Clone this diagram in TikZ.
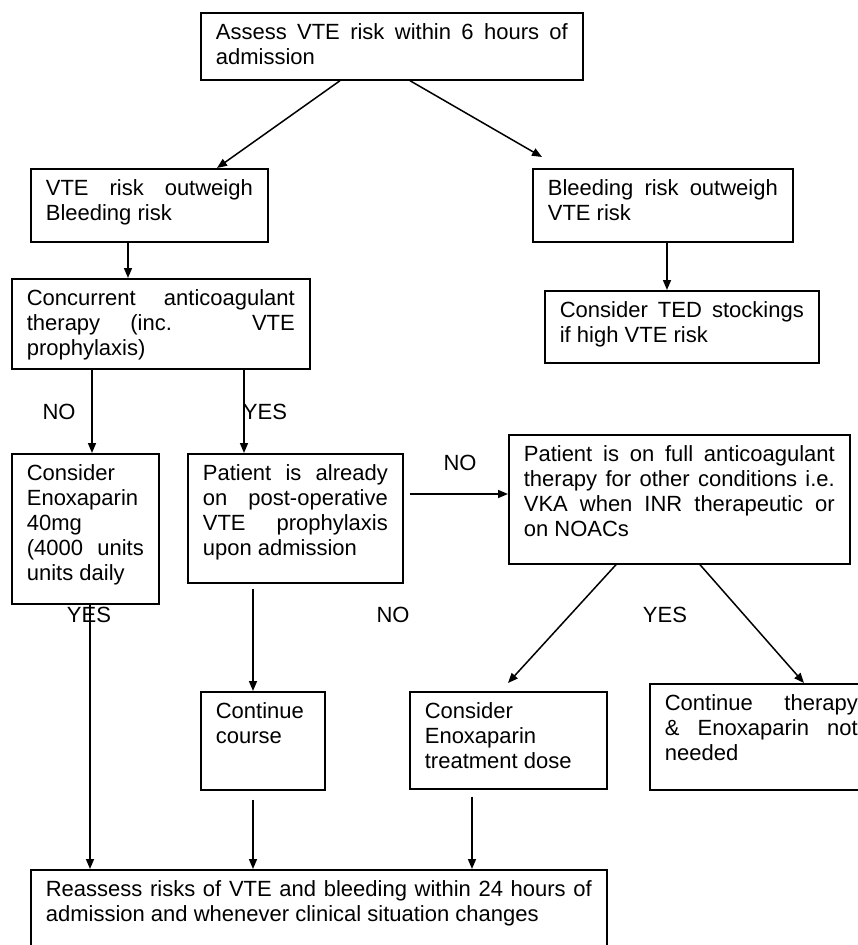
\documentclass[tikz,border=0pt]{standalone}
\usepackage{fontspec}
\setmainfont{Liberation Sans}
\usetikzlibrary{calc, arrows.meta}
\hyphenpenalty=10000
\exhyphenpenalty=10000
\tolerance=9999
\hbadness=10000

\begin{document}
\begin{tikzpicture}[x=1pt, y=-1pt]
	\tikzstyle{box}=[draw, line width=1.7pt, anchor=north west, inner xsep=15pt, inner ysep=0pt, text height=27pt, align=justify, font=\fontsize{22}{25}\selectfont]
	\tikzstyle{flow}=[line width=1.5pt, -{Triangle[length=10pt, width=8pt]}]
	\tikzstyle{answer}=[inner sep=0pt, font=\fontsize{22}{25}\selectfont]

	\useasboundingbox (0,0) rectangle (858,945);
	\clip (0,0) rectangle (858,945);

	% first assessment
	\begin{scope}
		\node [box, text width=352pt, text depth=40pt] (assess) at (200,12) {Assess VTE risk within 6 hours of\linebreak admission};
		\node [box, text width=207pt, text depth=46pt] (vterisk) at (30,168) {VTE risk outweigh\linebreak Bleeding risk};
		\node [box, text width=230pt, text depth=46pt] (bleedrisk) at (532,168) {Bleeding risk outweigh\linebreak VTE risk};
		\coordinate (bleedtip) at ($(bleedrisk.north west)+(10,-11)$);
		\draw [flow] ($(assess.south west)+(140,0)$) -- ($(vterisk.north west)+(187,0)$);
		\draw [flow] ($(assess.south west)+(210,0)$) -- (bleedtip);
	\end{scope}

	% second level
	\begin{scope}
		\node [box, text width=268pt, text depth=63pt] (concurrent) at (11,278) {Concurrent anticoagulant\linebreak therapy (inc. VTE\linebreak prophylaxis)};
		\node [box, text width=244pt, text depth=45pt] (ted) at (544,290) {Consider TED stockings\linebreak if high VTE risk};
		\draw [flow] ($(vterisk.south west)+(98,0)$) coordinate (p) -- (p |- concurrent.north);
		\draw [flow] ($(bleedrisk.south west)+(135,0)$) coordinate (p) -- (p |- ted.north);
	\end{scope}

	% third level
	\begin{scope}
		\node [box, text width=117pt, text depth=123pt] (enox) at (11,453) {Consider\linebreak Enoxaparin\linebreak 40mg\linebreak (4000 units\linebreak units daily};
		\node [box, text width=185pt, text depth=102pt] (patient) at (187,453) {Patient is already\linebreak on post-operative\linebreak VTE prophylaxis\linebreak upon admission};
		\node [box, text width=311pt, text depth=102pt] (fullac) at (508,434) {Patient is on full anticoagulant\linebreak therapy for other conditions i.e.\linebreak VKA when INR therapeutic or\linebreak on NOACs};
		\draw [flow] ($(concurrent.south west)+(81,0)$) coordinate (p) -- (p |- enox.north);
		\draw [flow] ($(concurrent.south west)+(233,0)$) coordinate (p) -- (p |- patient.north);
		\draw [flow] ($(patient.north east)+(6,41)$) coordinate (p) -- (p -| fullac.west);
		\node [answer] (nofirst) at (59,412) {NO};
		\node [answer] (yesfirst) at (265,412) {YES};
		\node [answer] (nofull) at (460,463) {NO};
	\end{scope}

	% fourth level
	\begin{scope}
		\node [box, text width=94pt, text depth=71pt] (course) at (200,691) {Continue\linebreak course};
		\node [box, text width=167pt, text depth=70pt] (treatment) at (409,691) {Consider\linebreak Enoxaparin\linebreak treatment dose};
		\node [box, text width=193pt, text depth=79pt] (notneeded) at (649,683) {Continue therapy\linebreak \& Enoxaparin not\linebreak needed};
		\coordinate (treattip) at ($(treatment.north west)+(99,-8)$);
		\draw [flow] ($(patient.south west)+(66,5)$) coordinate (p) -- (p |- course.north);
		\draw [flow] ($(fullac.south west)+(108,0)$) -- (treattip);
		\draw [flow] ($(fullac.south west)+(192,0)$) -- ($(notneeded.north west)+(155,0)$);
		\node [answer] (yesenox) at (89,615) {YES};
		\node [answer] (nopatient) at (393,615) {NO};
		\node [answer] (yesfull) at (665,615) {YES};
	\end{scope}

	% reassessment
	\begin{scope}
		\node [box, text width=546pt, text depth=73pt] (reassess) at (30,869) {Reassess risks of VTE and bleeding within 24 hours of\linebreak admission and whenever clinical situation changes};
		\draw [flow] ($(enox.south west)+(79,0)$) coordinate (p) -- (p |- reassess.north);
		\draw [flow] ($(course.south west)+(53,9)$) coordinate (p) -- (p |- reassess.north);
		\draw [flow] ($(treatment.south west)+(63,7)$) coordinate (p) -- (p |- reassess.north);
	\end{scope}
\end{tikzpicture}
\end{document}
